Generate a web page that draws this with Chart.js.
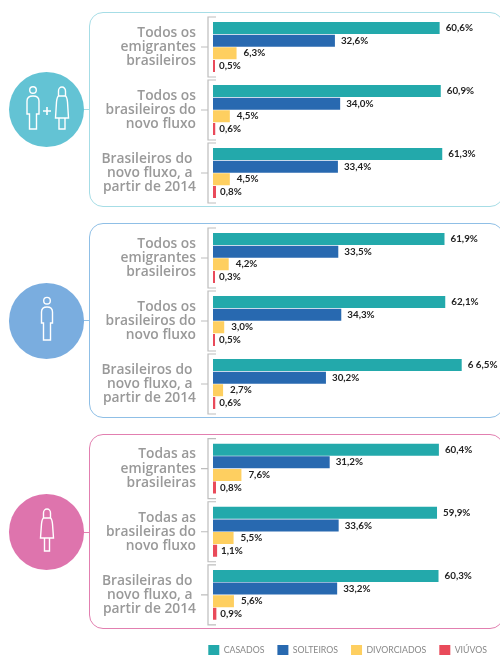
<!DOCTYPE html>
<html>
<head>
<meta charset="utf-8">
<script src="https://cdn.jsdelivr.net/npm/chart.js@4"></script>
<style>
html, body { margin: 0; padding: 0; background: #fff; overflow: hidden; }
#page { position: relative; width: 500px; height: 655px; overflow: hidden; }
.panel { position: absolute; left: 89px; width: 415px; height: 195px; box-sizing: border-box; border: 1.5px solid; border-radius: 14px; }
.link { position: absolute; left: 80px; width: 10px; height: 1.5px; }
.circle { position: absolute; left: 8.5px; width: 75.5px; height: 75.5px; border-radius: 50%; }
.circle svg { position: absolute; left: 0; top: 0; }
canvas { position: absolute; left: 0; }
</style>
</head>
<body>
<div id="page">
  <div class="panel" style="top:12px;border-color:#a6dde6"></div>
  <div class="link" style="top:108.5px;background:#a6dde6"></div>
  <div class="circle" style="top:71.5px;background:#63c3d4">
    <svg width="76" height="76" fill="none" stroke="#fff" stroke-width="1.4">
      <circle cx="24" cy="18" r="3.3"/>
      <path d="M18 42V29q0-5 6-5t6 5V42H27.5V57H20.5V42Z"/>
      <path d="M49.5 24V19a3.5 4 0 0 1 7 0V24"/>
      <path d="M49.5 24H56.5q1.500 1 2 6L59.500 46H46.500L47.500 30q.5-5 2-6ZM50 46V57H56V46"/>
      <path d="M38 35V43M34 39H42" stroke-width="1.6"/>
    </svg>
  </div>
  <div class="panel" style="top:223px;border-color:#8fbfe6"></div>
  <div class="link" style="top:319.5px;background:#8fbfe6"></div>
  <div class="circle" style="top:283px;background:#7aaddf">
    <svg width="76" height="76" fill="none" stroke="#fff" stroke-width="1.4">
      <circle cx="38" cy="17.700" r="3.300"/>
      <path d="M32.500 40V29q0-5 5.500-5t5.500 5V40H41.500V57H34.500V40Z"/>
    </svg>
  </div>
  <div class="panel" style="top:434px;border-color:#e27fb0"></div>
  <div class="link" style="top:531.5px;background:#e27fb0"></div>
  <div class="circle" style="top:494px;background:#de74ad">
    <svg width="76" height="76" fill="none" stroke="#fff" stroke-width="1.4">
      <path d="M34.500 24V19a3.500 4 0 0 1 7 0V24"/>
      <path d="M34.500 24H41.500q1.500 1 2 6L44.500 44H31.500L32.500 30q.5-5 2-6ZM35.500 44V57H40.500V44"/>
    </svg>
  </div>
  <canvas id="chart1" width="500" height="215" style="top:0"></canvas>
  <canvas id="chart2" width="500" height="215" style="top:211px"></canvas>
  <canvas id="chart3" width="500" height="243" style="top:422px"></canvas>
</div>
<script>
const labelsAll = [['Todos os', 'emigrantes', 'brasileiros'], ['Todos os', 'brasileiros do', 'novo fluxo'], ['Brasileiros do ', 'novo fluxo, a ', 'partir de 2014']]
const labelsWomen = [['Todas as', 'emigrantes', 'brasileiras'], ['Todas as', 'brasileiras do', 'novo fluxo'], ['Brasileiras do ', 'novo fluxo, a ', 'partir de 2014']]

const seriesNames = ['CASADOS', 'SOLTEIROS', 'DIVORCIADOS', 'VIÚVOS']
const seriesColors = ['#23a9ab', '#2869b0', '#fecf60', '#e94a5a']
const labelGaps = [6, 6, 7, 4]

const casadosAll = [60.6, 60.9, 61.3]
const solteirosAll = [32.6, 34.0, 33.4]
const divorciadosAll = [6.3, 4.5, 4.5]
const viuvosAll = [0.5, 0.6, 0.8]

const casadosMen = [61.9, 62.1, 66.5]
const solteirosMen = [33.5, 34.3, 30.2]
const divorciadosMen = [4.2, 3.0, 2.7]
const viuvosMen = [0.3, 0.5, 0.6]

const casadosWomen = [60.4, 59.9, 60.3]
const solteirosWomen = [31.2, 33.6, 33.2]
const divorciadosWomen = [7.6, 5.5, 5.6]
const viuvosWomen = [0.8, 1.1, 0.9]

function fmt(v) {
    const txt = v.toFixed(1).replace('.', ',') + '%'
    // the source prints this one with a stray space
    return txt === '66,5%' ? '6 6,5%' : txt
}

const valueLabels = {
    id: 'valueLabels',
    afterDatasetsDraw(chart) {
        const ctx = chart.ctx
        ctx.save()
        ctx.font = 'bold 9.8px Lato'
        ctx.fillStyle = '#222'
        ctx.textBaseline = 'middle'
        chart.data.datasets.forEach((ds, i) => {
            chart.getDatasetMeta(i).data.forEach((bar, j) => {
                ctx.fillText(fmt(ds.data[j]), bar.x + labelGaps[i], bar.y)
            })
        })
        ctx.restore()
    }
}

const brackets = {
    id: 'brackets',
    afterDraw(chart) {
        const ctx = chart.ctx
        const y = chart.scales.y
        ctx.save()
        ctx.strokeStyle = '#bdbdbd'
        ctx.lineWidth = 1.2
        y.ticks.forEach((t, i) => {
            const c = y.getPixelForTick(i)
            ctx.beginPath()
            ctx.moveTo(216, c - 30)
            ctx.lineTo(208, c - 30)
            ctx.lineTo(208, c + 30)
            ctx.lineTo(216, c + 30)
            ctx.moveTo(201, c)
            ctx.lineTo(208, c)
            ctx.stroke()
        })
        ctx.restore()
    }
}

function makeChart(id, labels, values, top, bottom, withLegend) {
    new Chart(document.getElementById(id), {
        type: 'bar',
        plugins: [valueLabels, brackets],
        data: {
            labels: labels,
            datasets: values.map((v, i) => ({
                label: seriesNames[i],
                data: v,
                backgroundColor: seriesColors[i],
                categoryPercentage: 0.8,
                barPercentage: 0.95,
                minBarLength: 2
            }))
        },
        options: {
            indexAxis: 'y',
            responsive: false,
            animation: false,
            layout: { padding: { top: top, bottom: bottom } },
            scales: {
                x: { display: false, min: 0, max: 76.74 },
                y: {
                    afterFit(scale) {
                        scale.width = 213
                        scale.paddingTop = 0
                        scale.paddingBottom = 0
                    },
                    grid: { display: false, drawTicks: false },
                    border: { display: false },
                    ticks: {
                        autoSkip: false,
                        padding: 17,
                        color: '#999',
                        font: { family: 'Open Sans', size: 13.8, weight: '600', lineHeight: 1.02 }
                    }
                }
            },
            plugins: {
                tooltip: { enabled: false },
                legend: {
                    display: withLegend,
                    position: 'bottom',
                    align: 'end',
                    title: { display: true, text: ' ', padding: { top: 4.5, bottom: 0 }, font: { size: 1, lineHeight: 1 } },
                    labels: {
                        boxWidth: 11,
                        boxHeight: 10,
                        padding: 13,
                        color: '#888',
                        font: { family: 'Lato', size: 8.75 }
                    }
                }
            }
        }
    })
}

makeChart('chart1', labelsAll, [casadosAll, solteirosAll, divorciadosAll, viuvosAll], 15.5, 10.5, false)
makeChart('chart2', labelsAll, [casadosMen, solteirosMen, divorciadosMen, viuvosMen], 15.5, 10.5, false)
makeChart('chart3', labelsWomen, [casadosWomen, solteirosWomen, divorciadosWomen, viuvosWomen], 15, 0, true)
</script>
</body>
</html>
